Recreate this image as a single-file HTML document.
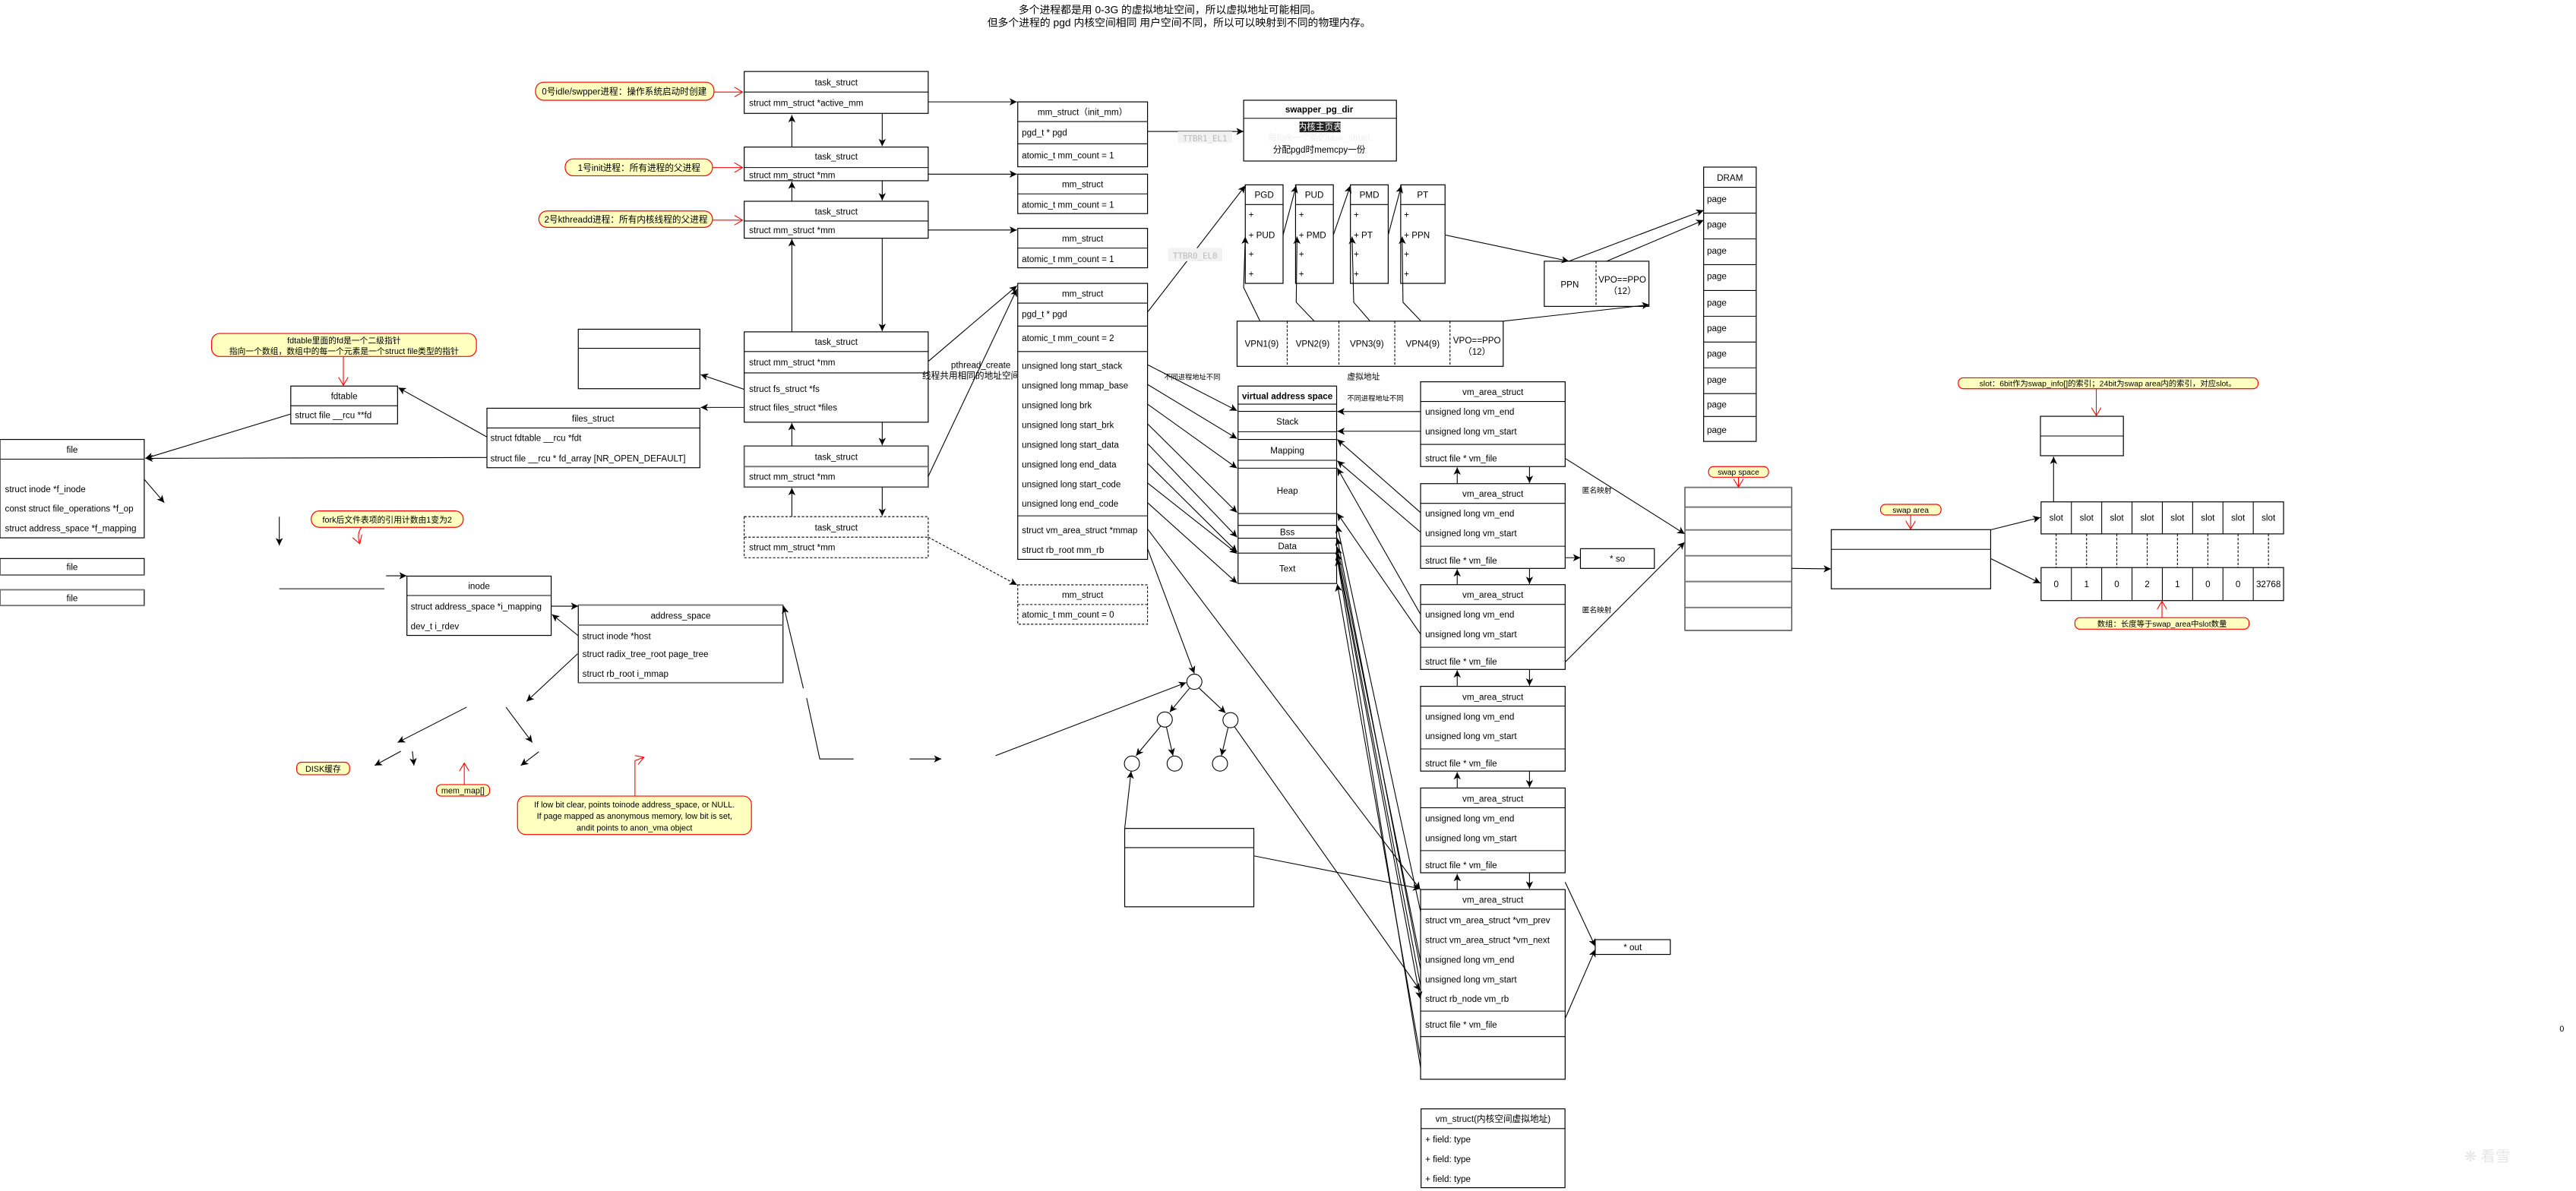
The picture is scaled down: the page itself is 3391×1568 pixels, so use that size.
<!DOCTYPE html>
<html><head><meta charset="utf-8"><style>
html,body{margin:0;padding:0;background:#fff;}
svg{display:block;}
text{font-family:"Liberation Sans","Noto Sans CJK SC",sans-serif;font-size:5.4px;fill:#000;}
.c{text-anchor:middle;}
.b{fill:#fff;stroke:#000;stroke-width:0.55;}
.l{stroke:#000;stroke-width:0.5;fill:none;}
.g{stroke:#777;stroke-width:0.9;fill:none;}
.d{stroke:#000;stroke-width:0.5;fill:none;stroke-dasharray:1.5,1;}
.co{fill:#ffffc0;stroke:#ff0000;stroke-width:0.55;}
.r{stroke:#ff0000;stroke-width:0.5;fill:none;}
</style></head><body>
<svg width="3391" height="1568" viewBox="0 0 1568 725" xmlns="http://www.w3.org/2000/svg">
<defs>
<marker id="a" markerUnits="userSpaceOnUse" markerWidth="5" markerHeight="5" refX="4.5" refY="2.5" orient="auto"><path d="M0,0.3 L4.5,2.5 L0,4.7 L1.2,2.5z" fill="#000"/></marker>
<marker id="ra" markerUnits="userSpaceOnUse" markerWidth="6" markerHeight="6" refX="5" refY="3" orient="auto"><path d="M0,0 L5,3 L0,6" fill="none" stroke="#f00" stroke-width="0.5"/></marker>
</defs>
<rect width="1568" height="725" fill="#fff"/>

<!-- title -->
<text x="620" y="8" style="font-size:6.4px">多个进程都是用 0-3G 的虚拟地址空间，所以虚拟地址可能相同。</text>
<text x="601" y="16" style="font-size:6.4px">但多个进程的 pgd 内核空间相同 用户空间不同，所以可以映射到不同的物理内存。</text>

<!-- callouts left top -->
<rect class="co" x="326" y="50" width="108.6" height="11" rx="5"/><text x="380" y="57.5" class="c">0号idle/swpper进程：操作系统启动时创建</text>
<line class="r" x1="434.6" y1="56" x2="452" y2="56" marker-end="url(#ra)"/>
<rect class="co" x="344" y="96.7" width="89.7" height="10.3" rx="5"/><text x="389" y="104" class="c">1号init进程：所有进程的父进程</text>
<line class="r" x1="433.7" y1="102" x2="452" y2="102" marker-end="url(#ra)"/>
<rect class="co" x="328" y="128.4" width="105.7" height="10" rx="5"/><text x="381" y="135.5" class="c">2号kthreadd进程：所有内核线程的父进程</text>
<line class="r" x1="433.7" y1="134" x2="452" y2="134" marker-end="url(#ra)"/>

<!-- task structs -->
<rect class="b" x="453" y="43.5" width="112" height="25.5"/><line class="l" x1="453" y1="56" x2="565" y2="56"/>
<text x="509" y="52" class="c">task_struct</text><text x="456" y="64.5">struct mm_struct *active_mm</text>
<rect class="b" x="453" y="89.5" width="112" height="20.5"/><line class="l" x1="453" y1="102" x2="565" y2="102"/>
<text x="509" y="97" class="c">task_struct</text><text x="456" y="108.5">struct mm_struct *mm</text>
<rect class="b" x="453" y="122.5" width="112" height="22.5"/><line class="l" x1="453" y1="134.5" x2="565" y2="134.5"/>
<text x="509" y="130.5" class="c">task_struct</text><text x="456" y="142">struct mm_struct *mm</text>
<rect class="b" x="453" y="202" width="112" height="55"/><line class="l" x1="453" y1="214" x2="565" y2="214"/><line class="l" x1="453" y1="227" x2="565" y2="227"/>
<text x="509" y="210" class="c">task_struct</text><text x="456" y="222.5">struct mm_struct *mm</text><text x="456" y="238.5">struct fs_struct *fs</text><text x="456" y="250">struct files_struct *files</text>
<rect class="b" x="453" y="271.5" width="112" height="25" style="stroke:#555;stroke-width:0.8"/><line class="g" x1="453" y1="284" x2="565" y2="284"/>
<text x="509" y="280" class="c">task_struct</text><text x="456" y="292">struct mm_struct *mm</text>
<rect class="d" x="453" y="314.5" width="112" height="25"/><line class="d" x1="453" y1="327" x2="565" y2="327"/>
<text x="509" y="323" class="c">task_struct</text><text x="456" y="335">struct mm_struct *mm</text>

<!-- vertical arrows between tasks -->
<line class="l" x1="482" y1="89.5" x2="482" y2="70" marker-end="url(#a)"/>
<line class="l" x1="537" y1="69" x2="537" y2="89" marker-end="url(#a)"/>
<line class="l" x1="482" y1="122.5" x2="482" y2="110.5" marker-end="url(#a)"/>
<line class="l" x1="537" y1="110" x2="537" y2="122" marker-end="url(#a)"/>
<line class="l" x1="482" y1="202" x2="482" y2="145.5" marker-end="url(#a)"/>
<line class="l" x1="537" y1="145" x2="537" y2="201.5" marker-end="url(#a)"/>
<line class="l" x1="482" y1="271.5" x2="482" y2="257.5" marker-end="url(#a)"/>
<line class="l" x1="537" y1="257" x2="537" y2="271" marker-end="url(#a)"/>
<line class="l" x1="482" y1="314.5" x2="482" y2="297" marker-end="url(#a)"/>
<line class="l" x1="537" y1="296.5" x2="537" y2="314" marker-end="url(#a)"/>

<!-- task -> mm arrows -->
<line class="l" x1="565" y1="62" x2="619" y2="62" marker-end="url(#a)"/>
<line class="l" x1="565" y1="106" x2="619" y2="106" marker-end="url(#a)"/>
<line class="l" x1="565" y1="140" x2="619" y2="140" marker-end="url(#a)"/>
<line class="l" x1="565" y1="220" x2="619" y2="174" marker-end="url(#a)"/>
<line class="l" x1="565" y1="290" x2="619" y2="176" marker-end="url(#a)"/>
<line class="d" x1="565" y1="327" x2="619" y2="356" marker-end="url(#a)"/>
<text x="597" y="224" class="c">pthread_create</text>
<text x="591" y="230.5" class="c">线程共用相同的地址空间</text>

<!-- mm structs -->
<rect class="b" x="619.5" y="62" width="79" height="39.5"/><line class="l" x1="619.5" y1="74" x2="698.5" y2="74"/><line class="l" x1="619.5" y1="87.5" x2="698.5" y2="87.5"/>
<text x="659" y="70" class="c">mm_struct（init_mm）</text><text x="622" y="82.5">pgd_t * pgd</text><text x="622" y="96.5">atomic_t mm_count = 1</text>
<rect class="b" x="619.5" y="106" width="79" height="24"/><line class="l" x1="619.5" y1="118" x2="698.5" y2="118"/>
<text x="659" y="114" class="c">mm_struct</text><text x="622" y="126.5">atomic_t mm_count = 1</text>
<rect class="b" x="619.5" y="139" width="79" height="24"/><line class="l" x1="619.5" y1="151" x2="698.5" y2="151"/>
<text x="659" y="147" class="c">mm_struct</text><text x="622" y="159.5">atomic_t mm_count =  1</text>
<rect class="b" x="619.5" y="172.5" width="79" height="168"/><line class="l" x1="619.5" y1="184.5" x2="698.5" y2="184.5"/><line class="l" x1="619.5" y1="198.5" x2="698.5" y2="198.5"/><line class="l" x1="619.5" y1="214" x2="698.5" y2="214"/><line class="l" x1="619.5" y1="314" x2="698.5" y2="314"/>
<text x="659" y="180.5" class="c">mm_struct</text><text x="622" y="193">pgd_t * pgd</text><text x="622" y="207.5">atomic_t mm_count = 2</text>
<text x="622" y="224.5">unsigned long start_stack</text><text x="622" y="236.5">unsigned long mmap_base</text><text x="622" y="248.5">unsigned long brk</text><text x="622" y="260.5">unsigned long start_brk</text><text x="622" y="272.5">unsigned long start_data</text><text x="622" y="284.5">unsigned long end_data</text><text x="622" y="296.5">unsigned long start_code</text><text x="622" y="308.5">unsigned long end_code</text>
<text x="622" y="324.5">struct vm_area_struct *mmap</text><text x="622" y="336.5">struct rb_root mm_rb</text>
<rect class="d" x="619.5" y="356" width="79" height="24" style="fill:#fff"/><line class="d" x1="619.5" y1="368" x2="698.5" y2="368"/>
<text x="659" y="364" class="c">mm_struct</text><text x="622" y="376">atomic_t mm_count =  0</text>

<!-- swapper_pg_dir -->
<rect class="b" x="757" y="61" width="93" height="37"/><line class="l" x1="757" y1="72" x2="850" y2="72"/>
<text x="803" y="68.5" class="c" style="font-weight:bold">swapper_pg_dir</text>
<rect x="791" y="74" width="25" height="6.5" fill="#222"/><text x="803.5" y="79" class="c" style="fill:#fff">内核主页表</text>
<text x="803" y="85.5" class="c" style="fill:#eee">每fork一个新的task_struct</text>
<text x="803" y="93" class="c">分配pgd时memcpy一份</text>
<line class="l" x1="698.5" y1="80" x2="757" y2="80" marker-end="url(#a)"/>
<rect x="717" y="80" width="33" height="7" fill="#f2f2f2"/><text x="733.5" y="86" class="c" style="fill:#bbb;font-family:'DejaVu Sans Mono',monospace;font-size:5px">TTBR1_EL1</text>

<!-- TTBR0 -->
<line class="l" x1="698.5" y1="190" x2="758" y2="113" marker-end="url(#a)"/>
<rect x="711" y="151" width="33" height="8" fill="#f2f2f2"/><text x="727.5" y="157.5" class="c" style="fill:#bbb;font-family:'DejaVu Sans Mono',monospace;font-size:5px">TTBR0_EL0</text>

<!-- page tables -->
<g>
<rect class="b" x="758" y="112.5" width="23" height="60"/><line class="l" x1="758" y1="124.5" x2="781" y2="124.5"/>
<text x="769.5" y="120.5" class="c">PGD</text><text x="760" y="132.5">+</text><text x="760" y="145">+ PUD</text><text x="760" y="156.5">+</text><text x="760" y="168.5">+</text>
<rect class="b" x="788.6" y="112.5" width="23" height="60"/><line class="l" x1="788.6" y1="124.5" x2="811.6" y2="124.5"/>
<text x="800" y="120.5" class="c">PUD</text><text x="790.6" y="132.5">+</text><text x="790.6" y="145">+ PMD</text><text x="790.6" y="156.5">+</text><text x="790.6" y="168.5">+</text>
<rect class="b" x="822" y="112.5" width="23" height="60"/><line class="l" x1="822" y1="124.5" x2="845" y2="124.5"/>
<text x="833.5" y="120.5" class="c">PMD</text><text x="824" y="132.5">+</text><text x="824" y="145">+ PT</text><text x="824" y="156.5">+</text><text x="824" y="168.5">+</text>
<rect class="b" x="852.6" y="112.5" width="27" height="60"/><line class="l" x1="852.6" y1="124.5" x2="879.6" y2="124.5"/>
<text x="866" y="120.5" class="c">PT</text><text x="854.6" y="132.5">+</text><text x="854.6" y="145">+ PPN</text><text x="854.6" y="156.5">+</text><text x="854.6" y="168.5">+</text>
</g>
<line class="l" x1="781" y1="143" x2="789" y2="113" marker-end="url(#a)"/>
<line class="l" x1="811.6" y1="143" x2="822" y2="113" marker-end="url(#a)"/>
<line class="l" x1="845" y1="143" x2="853" y2="113" marker-end="url(#a)"/>
<path class="l" d="M767,195.5 L757,175 L758,144" marker-end="url(#a)"/>
<path class="l" d="M800,195.5 L789,184 L789.5,144" marker-end="url(#a)"/>
<path class="l" d="M834,195.5 L824,184 L823,144" marker-end="url(#a)"/>
<path class="l" d="M865,195.5 L854,184 L853.5,144" marker-end="url(#a)"/>

<!-- VPN box -->
<rect class="b" x="753" y="195.5" width="162" height="27.5"/>
<line class="d" x1="783.5" y1="195.5" x2="783.5" y2="223"/><line class="d" x1="815" y1="195.5" x2="815" y2="223"/><line class="d" x1="849" y1="195.5" x2="849" y2="223"/><line class="d" x1="882.6" y1="195.5" x2="882.6" y2="223"/>
<text x="768" y="211" class="c">VPN1(9)</text><text x="799" y="211" class="c">VPN2(9)</text><text x="832" y="211" class="c">VPN3(9)</text><text x="866" y="211" class="c">VPN4(9)</text><text x="899" y="209" class="c">VPO==PPO</text><text x="899" y="216" class="c">（12）</text>

<!-- PPN -->
<rect class="b" x="940" y="159" width="63.7" height="27.5"/><line class="d" x1="971.5" y1="159" x2="971.5" y2="186.5"/>
<text x="955.5" y="175" class="c">PPN</text><text x="987.5" y="172" class="c">VPO==PPO</text><text x="987.5" y="179" class="c">（12）</text>
<line class="l" x1="879.6" y1="143" x2="955" y2="159" marker-end="url(#a)"/>
<line class="l" x1="915" y1="195.5" x2="1004" y2="185.5" marker-end="url(#a)"/>
<line class="l" x1="955" y1="159" x2="1037" y2="128" marker-end="url(#a)"/>
<line class="l" x1="978" y1="159" x2="1037" y2="134" marker-end="url(#a)"/>

<!-- DRAM -->
<rect class="b" x="1037" y="101.7" width="32" height="167"/><line class="l" x1="1037" y1="114" x2="1069" y2="114"/>
<text x="1053" y="110" class="c">DRAM</text>
<g>
<line class="l" x1="1037" y1="129.7" x2="1069" y2="129.7"/><line class="l" x1="1037" y1="145.4" x2="1069" y2="145.4"/><line class="l" x1="1037" y1="161.1" x2="1069" y2="161.1"/><line class="l" x1="1037" y1="176.8" x2="1069" y2="176.8"/><line class="l" x1="1037" y1="192.5" x2="1069" y2="192.5"/><line class="l" x1="1037" y1="208.2" x2="1069" y2="208.2"/><line class="l" x1="1037" y1="223.9" x2="1069" y2="223.9"/><line class="l" x1="1037" y1="239.6" x2="1069" y2="239.6"/><line class="l" x1="1037" y1="253.5" x2="1069" y2="253.5"/>
<text x="1039" y="123">page</text><text x="1039" y="138.5">page</text><text x="1039" y="154.5">page</text><text x="1039" y="170">page</text><text x="1039" y="186">page</text><text x="1039" y="201.5">page</text><text x="1039" y="217">page</text><text x="1039" y="233">page</text><text x="1039" y="248">page</text><text x="1039" y="263.5">page</text>
</g>

<!-- virtual address space -->
<rect class="b" x="753.6" y="235" width="60" height="120.2"/>
<g class="l"><line x1="753.6" y1="246" x2="813.6" y2="246"/><line x1="753.6" y1="250.4" x2="813.6" y2="250.4"/><line x1="753.6" y1="262.8" x2="813.6" y2="262.8"/><line x1="753.6" y1="267.5" x2="813.6" y2="267.5"/><line x1="753.6" y1="280.2" x2="813.6" y2="280.2"/><line x1="753.6" y1="285" x2="813.6" y2="285"/><line x1="753.6" y1="312.6" x2="813.6" y2="312.6"/><line x1="753.6" y1="319.8" x2="813.6" y2="319.8"/><line x1="753.6" y1="327.6" x2="813.6" y2="327.6"/><line x1="753.6" y1="336.7" x2="813.6" y2="336.7"/></g>
<text x="783.6" y="243" class="c" style="font-weight:bold">virtual address space</text>
<text x="783.6" y="258.5" class="c">Stack</text><text x="783.6" y="276" class="c">Mapping</text><text x="783.6" y="300.5" class="c">Heap</text><text x="783.6" y="325.7" class="c">Bss</text><text x="783.6" y="334.3" class="c">Data</text><text x="783.6" y="348" class="c">Text</text>
<text x="708.5" y="231" style="font-size:4.3px">不同进程地址不同</text>
<text x="820" y="231" style="font-size:5px">虚拟地址</text>
<text x="820" y="244" style="font-size:4.3px">不同进程地址不同</text>

<!-- mm -> vas arrows -->
<g class="l">
<line x1="698.5" y1="222" x2="753" y2="250" marker-end="url(#a)"/>
<line x1="698.5" y1="234" x2="753" y2="267" marker-end="url(#a)"/>
<line x1="698.5" y1="246" x2="753" y2="285" marker-end="url(#a)"/>
<line x1="698.5" y1="258" x2="753" y2="312" marker-end="url(#a)"/>
<line x1="698.5" y1="270" x2="753" y2="327" marker-end="url(#a)"/>
<line x1="698.5" y1="282" x2="753" y2="336" marker-end="url(#a)"/>
<line x1="698.5" y1="294" x2="753" y2="337" marker-end="url(#a)"/>
<line x1="698.5" y1="306" x2="753" y2="355" marker-end="url(#a)"/>
</g>

<!-- vm_area_struct boxes -->
<g id="vms">
<rect class="b" x="864.7" y="232.4" width="88" height="51.6"/><line class="l" x1="864.7" y1="244.4" x2="952.7" y2="244.4"/><line class="l" x1="864.7" y1="270.5" x2="952.7" y2="270.5"/>
<text x="908.7" y="240.5" class="c">vm_area_struct</text><text x="867.5" y="252.5">unsigned long vm_end</text><text x="867.5" y="264.5">unsigned long vm_start</text><text x="867.5" y="281">struct file * vm_file</text>
<rect class="b" x="864.7" y="294.4" width="88" height="51.6"/><line class="l" x1="864.7" y1="306.4" x2="952.7" y2="306.4"/><line class="l" x1="864.7" y1="332.5" x2="952.7" y2="332.5"/>
<text x="908.7" y="302.5" class="c">vm_area_struct</text><text x="867.5" y="314.5">unsigned long vm_end</text><text x="867.5" y="326.5">unsigned long vm_start</text><text x="867.5" y="343">struct file * vm_file</text>
<rect class="b" x="864.7" y="355.9" width="88" height="51.6"/><line class="l" x1="864.7" y1="367.9" x2="952.7" y2="367.9"/><line class="l" x1="864.7" y1="394" x2="952.7" y2="394"/>
<text x="908.7" y="364" class="c">vm_area_struct</text><text x="867.5" y="376">unsigned long vm_end</text><text x="867.5" y="388">unsigned long vm_start</text><text x="867.5" y="404.5">struct file * vm_file</text>
<rect class="b" x="864.7" y="417.8" width="88" height="51.6"/><line class="l" x1="864.7" y1="429.8" x2="952.7" y2="429.8"/><line class="l" x1="864.7" y1="455.9" x2="952.7" y2="455.9"/>
<text x="908.7" y="426" class="c">vm_area_struct</text><text x="867.5" y="438">unsigned long vm_end</text><text x="867.5" y="450">unsigned long vm_start</text><text x="867.5" y="466.5">struct file * vm_file</text>
<rect class="b" x="864.7" y="479.7" width="88" height="51.6"/><line class="l" x1="864.7" y1="491.7" x2="952.7" y2="491.7"/><line class="l" x1="864.7" y1="517.8" x2="952.7" y2="517.8"/>
<text x="908.7" y="488" class="c">vm_area_struct</text><text x="867.5" y="500">unsigned long vm_end</text><text x="867.5" y="512">unsigned long vm_start</text><text x="867.5" y="528.5">struct file * vm_file</text>
<rect class="b" x="864.7" y="541.5" width="88" height="115.5"/><line class="l" x1="864.7" y1="553.5" x2="952.7" y2="553.5"/><line class="l" x1="864.7" y1="615.5" x2="952.7" y2="615.5"/><line class="l" x1="864.7" y1="631" x2="952.7" y2="631"/>
<text x="908.7" y="549.5" class="c">vm_area_struct</text><text x="867.5" y="562">struct vm_area_struct *vm_prev</text><text x="867.5" y="574">struct vm_area_struct *vm_next</text><text x="867.5" y="586">unsigned long vm_end</text><text x="867.5" y="598">unsigned long vm_start</text><text x="867.5" y="610">struct rb_node vm_rb</text><text x="867.5" y="625.5">struct file * vm_file</text>
</g>
<g class="l">
<line x1="887" y1="294.4" x2="887" y2="284.5" marker-end="url(#a)"/><line x1="931" y1="284" x2="931" y2="294" marker-end="url(#a)"/>
<line x1="887" y1="355.9" x2="887" y2="346.5" marker-end="url(#a)"/><line x1="931" y1="346" x2="931" y2="355.5" marker-end="url(#a)"/>
<line x1="887" y1="417.8" x2="887" y2="408" marker-end="url(#a)"/><line x1="931" y1="407.5" x2="931" y2="417.4" marker-end="url(#a)"/>
<line x1="887" y1="479.7" x2="887" y2="470" marker-end="url(#a)"/><line x1="931" y1="469.4" x2="931" y2="479.3" marker-end="url(#a)"/>
<line x1="887" y1="541.5" x2="887" y2="532" marker-end="url(#a)"/><line x1="931" y1="531.3" x2="931" y2="541" marker-end="url(#a)"/>
<!-- vm -> vas -->
<line x1="864.7" y1="250.5" x2="814" y2="250.5" marker-end="url(#a)"/>
<line x1="864.7" y1="262.5" x2="814" y2="262.5" marker-end="url(#a)"/>
<line x1="864.7" y1="312" x2="814" y2="267.5" marker-end="url(#a)"/>
<line x1="864.7" y1="324" x2="814" y2="280.5" marker-end="url(#a)"/>
<line x1="864.7" y1="374" x2="814" y2="285" marker-end="url(#a)"/>
<line x1="864.7" y1="386" x2="814" y2="312.5" marker-end="url(#a)"/>
<line x1="864.7" y1="555" x2="814" y2="320" marker-end="url(#a)"/>
<line x1="864.7" y1="590" x2="814" y2="327.6" marker-end="url(#a)"/>
<line x1="864.7" y1="600" x2="814" y2="336.7" marker-end="url(#a)"/>
<line x1="864.7" y1="585" x2="814" y2="333" marker-end="url(#a)"/>
<line x1="864.7" y1="650" x2="814" y2="340" marker-end="url(#a)"/>
<line x1="864.7" y1="644" x2="814" y2="355.5" marker-end="url(#a)"/>
<!-- mm rows to vm -->
<line x1="698.5" y1="322" x2="864.5" y2="541.5" marker-end="url(#a)"/>
<line x1="698.5" y1="334" x2="727" y2="410" marker-end="url(#a)"/>
<line x1="813.6" y1="336.7" x2="864.5" y2="608" marker-end="url(#a)"/>
</g>

<!-- so / out -->
<rect class="b" x="962" y="334" width="45" height="12"/><text x="984.5" y="342" class="c">* so</text>
<line class="l" x1="952.7" y1="339.5" x2="962" y2="339.5" marker-end="url(#a)"/>
<rect class="b" x="971" y="572" width="45.7" height="9"/><text x="993.8" y="578.5" class="c">* out</text>
<line class="l" x1="952.7" y1="537" x2="971" y2="576" marker-end="url(#a)"/>
<line class="l" x1="952.7" y1="620" x2="971" y2="578" marker-end="url(#a)"/>

<!-- vm_struct -->
<rect class="b" x="865" y="675" width="87.6" height="48"/><line class="l" x1="865" y1="687" x2="952.6" y2="687"/>
<text x="908.8" y="683" class="c">vm_struct(内核空间虚拟地址)</text><text x="867.5" y="695.5">+ field: type</text><text x="867.5" y="707.5">+ field: type</text><text x="867.5" y="719.5">+ field: type</text>

<!-- anonymous mapping to swap -->
<line class="l" x1="952.7" y1="279" x2="1025.5" y2="325" marker-end="url(#a)"/>
<line class="l" x1="952.7" y1="403" x2="1025.5" y2="330" marker-end="url(#a)"/>
<text x="963" y="300" style="font-size:4.5px">匿名映射</text>
<text x="963" y="373" style="font-size:4.5px">匿名映射</text>

<!-- swap space -->
<rect x="1025.6" y="296.7" width="65" height="87" fill="#fff" stroke="#555" stroke-width="0.7"/>
<g class="g"><line x1="1025.6" y1="296.7" x2="1090.6" y2="296.7"/><line x1="1025.6" y1="308.7" x2="1090.6" y2="308.7"/><line x1="1025.6" y1="322.6" x2="1090.6" y2="322.6"/><line x1="1025.6" y1="338.3" x2="1090.6" y2="338.3"/><line x1="1025.6" y1="354" x2="1090.6" y2="354"/><line x1="1025.6" y1="369.8" x2="1090.6" y2="369.8"/><line x1="1025.6" y1="383.8" x2="1090.6" y2="383.8"/></g>
<rect class="co" x="1040" y="284" width="36.5" height="6.5" rx="3"/><text x="1058.2" y="289" class="c" style="font-size:4.8px">swap space</text>
<line class="r" x1="1058.2" y1="290.5" x2="1058.2" y2="296.5" marker-end="url(#ra)"/>
<line class="l" x1="1090.6" y1="346" x2="1114.5" y2="346.3" marker-end="url(#a)"/>

<!-- swap area -->
<rect class="b" x="1114.7" y="322.4" width="97" height="36"/><line class="l" x1="1114.7" y1="334.4" x2="1211.7" y2="334.4"/>
<rect class="co" x="1144.7" y="307" width="36.8" height="6.5" rx="3"/><text x="1163" y="312" class="c" style="font-size:4.8px">swap area</text>
<line class="r" x1="1163" y1="313.5" x2="1163" y2="322" marker-end="url(#ra)"/>
<line class="l" x1="1211.7" y1="322.5" x2="1242" y2="315" marker-end="url(#a)"/>
<line class="l" x1="1211.7" y1="340" x2="1242" y2="355" marker-end="url(#a)"/>

<!-- slots -->
<g>
<rect class="b" x="1242.4" y="305.5" width="147.6" height="19.5"/>
<rect class="b" x="1242.4" y="345.5" width="147.6" height="20.1"/>
<g class="l">
<line x1="1260.85" y1="305.5" x2="1260.85" y2="325"/><line x1="1279.3" y1="305.5" x2="1279.3" y2="325"/><line x1="1297.75" y1="305.5" x2="1297.75" y2="325"/><line x1="1316.2" y1="305.5" x2="1316.2" y2="325"/><line x1="1334.65" y1="305.5" x2="1334.65" y2="325"/><line x1="1353.1" y1="305.5" x2="1353.1" y2="325"/><line x1="1371.55" y1="305.5" x2="1371.55" y2="325"/>
<line x1="1260.85" y1="345.5" x2="1260.85" y2="365.6"/><line x1="1279.3" y1="345.5" x2="1279.3" y2="365.6"/><line x1="1297.75" y1="345.5" x2="1297.75" y2="365.6"/><line x1="1316.2" y1="345.5" x2="1316.2" y2="365.6"/><line x1="1334.65" y1="345.5" x2="1334.65" y2="365.6"/><line x1="1353.1" y1="345.5" x2="1353.1" y2="365.6"/><line x1="1371.55" y1="345.5" x2="1371.55" y2="365.6"/>
</g>
<g class="d">
<line x1="1251.6" y1="325" x2="1251.6" y2="345.5"/><line x1="1270.1" y1="325" x2="1270.1" y2="345.5"/><line x1="1288.5" y1="325" x2="1288.5" y2="345.5"/><line x1="1307" y1="325" x2="1307" y2="345.5"/><line x1="1325.4" y1="325" x2="1325.4" y2="345.5"/><line x1="1343.9" y1="325" x2="1343.9" y2="345.5"/><line x1="1362.3" y1="325" x2="1362.3" y2="345.5"/><line x1="1380.8" y1="325" x2="1380.8" y2="345.5"/>
</g>
<text x="1251.6" y="317" class="c">slot</text><text x="1270.1" y="317" class="c">slot</text><text x="1288.5" y="317" class="c">slot</text><text x="1307" y="317" class="c">slot</text><text x="1325.4" y="317" class="c">slot</text><text x="1343.9" y="317" class="c">slot</text><text x="1362.3" y="317" class="c">slot</text><text x="1380.8" y="317" class="c">slot</text>
<text x="1251.6" y="357.5" class="c">0</text><text x="1270.1" y="357.5" class="c">1</text><text x="1288.5" y="357.5" class="c">0</text><text x="1307" y="357.5" class="c">2</text><text x="1325.4" y="357.5" class="c">1</text><text x="1343.9" y="357.5" class="c">0</text><text x="1362.3" y="357.5" class="c">0</text><text x="1380.8" y="357.5" class="c">32768</text>
</g>
<rect class="b" x="1242" y="253.4" width="50.5" height="24"/><line class="l" x1="1242" y1="265.4" x2="1292.5" y2="265.4"/>
<line class="l" x1="1250" y1="305.5" x2="1250" y2="278" marker-end="url(#a)"/>
<rect class="co" x="1192" y="230" width="182.5" height="6.6" rx="3"/><text x="1283" y="235" class="c" style="font-size:4.8px">slot：6bit作为swap_info[]的索引；24bit为swap area内的索引，对应slot。</text>
<line class="r" x1="1276" y1="236.6" x2="1276" y2="253" marker-end="url(#ra)"/>
<rect class="co" x="1263" y="376" width="106" height="7" rx="3"/><text x="1316" y="381.5" class="c" style="font-size:4.8px">数组：长度等于swap_area中slot数量</text>
<line class="r" x1="1316" y1="376" x2="1316" y2="366" marker-end="url(#ra)"/>

<!-- left side: files -->
<rect class="co" x="128.8" y="203" width="161.2" height="14" rx="5"/>
<text x="209.4" y="209" class="c" style="font-size:5px">fdtable里面的fd是一个二级指针</text>
<text x="209.4" y="215.5" class="c" style="font-size:5px">指向一个数组，数组中的每一个元素是一个struct file类型的指针</text>
<line class="r" x1="209" y1="217" x2="209" y2="234.5" marker-end="url(#ra)"/>
<rect class="b" x="177" y="235" width="65" height="23"/><line class="l" x1="177" y1="247" x2="242" y2="247"/>
<text x="209.5" y="243" class="c">fdtable</text><text x="179.5" y="254.5">struct file __rcu **fd</text>
<rect class="b" x="296.4" y="248.5" width="129.6" height="36.2"/><line class="l" x1="296.4" y1="260.5" x2="426" y2="260.5"/>
<text x="361" y="256.5" class="c">files_struct</text><text x="298.5" y="268.5">struct fdtable __rcu *fdt</text><text x="298.5" y="281">struct file __rcu * fd_array [NR_OPEN_DEFAULT]</text>
<rect class="b" x="352" y="200.4" width="74" height="36.2"/><line class="l" x1="352" y1="212" x2="426" y2="212"/>
<line class="l" x1="453" y1="237" x2="426.5" y2="228" marker-end="url(#a)"/>
<line class="l" x1="453" y1="248" x2="426.5" y2="248" marker-end="url(#a)"/>
<line class="l" x1="296.4" y1="266" x2="242.5" y2="236" marker-end="url(#a)"/>
<line class="l" x1="296.4" y1="278.5" x2="88.5" y2="279" marker-end="url(#a)"/>
<line class="l" x1="177" y1="252" x2="88.5" y2="279" marker-end="url(#a)"/>

<rect class="b" x="0" y="267.5" width="87.8" height="59.9"/><line class="l" x1="0" y1="279.5" x2="87.8" y2="279.5"/>
<text x="43.9" y="275.5" class="c">file</text><text x="3" y="299.5">struct inode *f_inode</text><text x="3" y="311.5">const struct file_operations *f_op</text><text x="3" y="323.5">struct address_space *f_mapping</text>
<line class="l" x1="88" y1="292" x2="100" y2="306" marker-end="url(#a)"/>
<rect x="0" y="340" width="87.8" height="10" fill="#fff" stroke="#000" stroke-width="0.55"/><line class="g" x1="0" y1="350" x2="87.8" y2="350"/><text x="43.9" y="347" class="c">file</text>
<rect x="0" y="359" width="87.8" height="9.6" fill="#fff" stroke="#000" stroke-width="0.55"/><line class="g" x1="0" y1="359" x2="87.8" y2="359"/><line class="g" x1="0" y1="368.6" x2="87.8" y2="368.6"/><text x="43.9" y="366" class="c">file</text>

<rect class="co" x="189.4" y="311" width="92.6" height="10" rx="5"/><text x="235.7" y="318" class="c" style="font-size:5px">fork后文件表项的引用计数由1变为2</text>
<path class="r" d="M220,321 Q217,325 219,331" marker-end="url(#ra)"/>
<line class="l" x1="170" y1="314.6" x2="170" y2="332" marker-end="url(#a)"/>
<line class="l" x1="170" y1="358.4" x2="234" y2="358.4"/>
<line class="l" x1="235" y1="350.5" x2="247.5" y2="350.5" marker-end="url(#a)"/>

<rect class="b" x="247.7" y="350.7" width="87.8" height="36.1"/><line class="l" x1="247.7" y1="362.5" x2="335.5" y2="362.5"/>
<text x="291.6" y="358.5" class="c">inode</text><text x="250" y="371">struct address_space *i_mapping</text><text x="250" y="383">dev_t  i_rdev</text>
<rect x="352" y="368.3" width="124.6" height="47.3" fill="#fff" stroke="#000" stroke-width="0.55"/><line class="g" x1="352" y1="368.3" x2="476.6" y2="368.3"/><line class="g" x1="352" y1="380.5" x2="476.6" y2="380.5"/><line class="g" x1="352" y1="415.6" x2="476.6" y2="415.6"/>
<text x="414.3" y="376.5" class="c">address_space</text><text x="354.5" y="389">struct inode *host</text><text x="354.5" y="400">struct radix_tree_root page_tree</text><text x="354.5" y="412">struct rb_root i_mmap</text>
<line class="l" x1="335.5" y1="369" x2="352" y2="369" marker-end="url(#a)"/>
<line class="l" x1="352" y1="387" x2="336" y2="374" marker-end="url(#a)"/>
<line class="l" x1="351.6" y1="398" x2="320.5" y2="427" marker-end="url(#a)"/>
<line class="l" x1="284" y1="430.5" x2="242" y2="452" marker-end="url(#a)"/>
<line class="l" x1="308" y1="430.5" x2="324" y2="452" marker-end="url(#a)"/>
<line class="l" x1="244" y1="457.3" x2="228" y2="466" marker-end="url(#a)"/>
<line class="l" x1="251" y1="457.3" x2="252" y2="466" marker-end="url(#a)"/>
<line class="l" x1="328" y1="457.6" x2="317" y2="466" marker-end="url(#a)"/>
<line class="l" x1="476.6" y1="420" x2="476.6" y2="368.5" marker-end="url(#a)" style="display:none"/>
<path class="l" d="M489,419 L477,369" marker-end="url(#a)"/>
<path class="l" d="M491,425 L499,462 L519.6,462"/>
<line class="l" x1="553.7" y1="462" x2="573" y2="462" marker-end="url(#a)"/>

<rect class="co" x="180.6" y="464" width="32.2" height="7.6" rx="3"/><text x="196.7" y="469.8" class="c" style="font-size:5px">DISK缓存</text>
<rect class="co" x="265.7" y="477.6" width="32.3" height="7" rx="3"/><text x="281.8" y="483" class="c" style="font-size:5px">mem_map[]</text>
<line class="r" x1="282.6" y1="477.6" x2="282.6" y2="464.5" marker-end="url(#ra)"/>
<rect class="co" x="315" y="484.6" width="142.4" height="23.4" rx="5"/>
<text x="386.2" y="491.5" class="c" style="font-size:5px">If low bit clear, points toinode address_space, or NULL.</text>
<text x="386.2" y="498.5" class="c" style="font-size:5px">If page mapped as anonymous memory, low bit is set,</text>
<text x="386.2" y="505.5" class="c" style="font-size:5px">andit points to anon_vma object</text>
<path class="r" d="M386.5,484.6 L386.5,463 L392,461" marker-end="url(#ra)"/>

<!-- rb tree -->
<g class="l">
<line x1="606" y1="460" x2="722" y2="415.5" marker-end="url(#a)"/>
<circle cx="727" cy="415" r="4.6" fill="#fff"/>
<circle cx="709" cy="438" r="4.6" fill="#fff"/>
<circle cx="749" cy="438.4" r="4.6" fill="#fff"/>
<circle cx="689" cy="464.8" r="4.6" fill="#fff"/>
<circle cx="715" cy="464.8" r="4.6" fill="#fff"/>
<circle cx="742.6" cy="464.8" r="4.6" fill="#fff"/>
<line x1="724" y1="419" x2="712" y2="433.5" marker-end="url(#a)"/>
<line x1="730" y1="419" x2="746" y2="434" marker-end="url(#a)"/>
<line x1="706.5" y1="442" x2="691.5" y2="460" marker-end="url(#a)"/>
<line x1="710" y1="442.6" x2="714" y2="460" marker-end="url(#a)"/>
<line x1="747.5" y1="443" x2="743.5" y2="460" marker-end="url(#a)"/>
<line x1="751.5" y1="442.5" x2="864.5" y2="603" marker-end="url(#a)"/>
</g>
<rect class="b" x="684.6" y="504.3" width="78.6" height="47.7"/><line class="l" x1="684.6" y1="516" x2="763.2" y2="516"/>
<line class="l" x1="684.6" y1="504.3" x2="688.5" y2="469.5" marker-end="url(#a)"/>
<line class="l" x1="763.2" y1="521" x2="864.5" y2="541" marker-end="url(#a)"/>

<text x="1558" y="628" style="font-size:5px">0</text>
<text x="1500" y="707" style="font-size:9px;fill:#e6e6e6">❋ 看雪</text>
</svg>
</body></html>
